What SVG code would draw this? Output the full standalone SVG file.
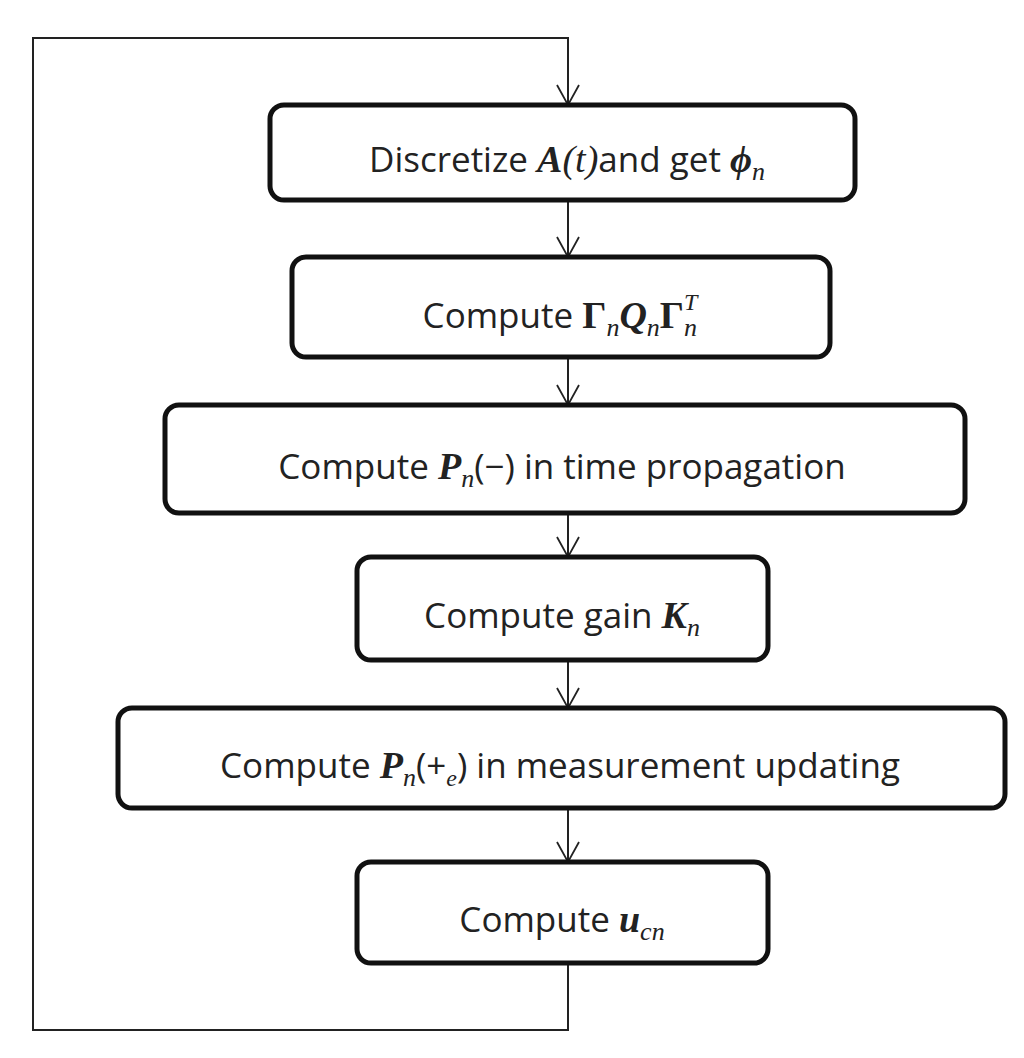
<svg xmlns="http://www.w3.org/2000/svg" width="1024" height="1058" viewBox="0 0 1024 1058">
<defs>
<marker id="v" markerWidth="24" markerHeight="24" refX="22" refY="12" orient="auto" markerUnits="userSpaceOnUse" viewBox="0 0 24 24"><path d="M2 1 L22 12 L2 23" fill="none" stroke="#222" stroke-width="1.8"/></marker>
</defs>
<style>
.b{fill:#fff;stroke:#111;stroke-width:5}
.t{font-family:"Open Sans","Liberation Sans",sans-serif;font-size:35px;fill:#222;text-anchor:middle}
.m{font-family:"Liberation Serif",serif;font-style:italic;font-weight:bold;font-size:38px}
.g{font-family:"Liberation Serif",serif;font-style:normal;font-weight:bold;font-size:38px}
.mi{font-family:"Liberation Serif",serif;font-style:italic}
.c{fill:none;stroke:#222;stroke-width:2}
</style>
<rect width="1024" height="1058" fill="#fff"/>
<g id="connectors">
<path class="c" d="M568 963 V1030 H33 V38 H568 V105" marker-end="url(#v)"/>
<path class="c" d="M568 200 V257" marker-end="url(#v)"/>
<path class="c" d="M568 357 V405" marker-end="url(#v)"/>
<path class="c" d="M568 513 V557" marker-end="url(#v)"/>
<path class="c" d="M568 660 V708" marker-end="url(#v)"/>
<path class="c" d="M568 808 V862" marker-end="url(#v)"/>
</g>
<g id="n1"><rect class="b" x="270" y="105" width="585" height="95" rx="14"/>
<text class="t" x="567" y="172">Discretize <tspan class="m">A</tspan><tspan class="mi" font-size="38">(t)</tspan>and get <tspan class="m">ϕ</tspan><tspan class="mi" font-size="26" dy="8">n</tspan></text></g>
<g id="n2"><rect class="b" x="292" y="257" width="538" height="100" rx="14"/>
<text class="t" x="560" y="328">Compute  <tspan class="g">Γ</tspan><tspan class="mi" font-size="26" dy="8">n</tspan><tspan class="m" dy="-8">Q</tspan><tspan class="mi" font-size="26" dy="8">n</tspan><tspan class="g" dy="-8">Γ</tspan><tspan class="mi" font-size="26" dy="8">n</tspan><tspan class="mi" font-size="24" dx="-13" dy="-26">T</tspan></text></g>
<g id="n3"><rect class="b" x="165" y="405" width="800" height="108" rx="14"/>
<text class="t" x="562" y="479">Compute <tspan class="m">P</tspan><tspan class="mi" font-size="26" dy="8">n</tspan><tspan dy="-8">(−) in time propagation</tspan></text></g>
<g id="n4"><rect class="b" x="357" y="557" width="411" height="103" rx="14"/>
<text class="t" x="562" y="628">Compute gain <tspan class="m">K</tspan><tspan class="mi" font-size="26" dy="8">n</tspan></text></g>
<g id="n5"><rect class="b" x="118" y="708" width="887" height="100" rx="14"/>
<text class="t" x="560" y="778">Compute <tspan class="m">P</tspan><tspan class="mi" font-size="26" dy="8">n</tspan><tspan dy="-8">(+</tspan><tspan class="mi" font-size="24" dy="8">e</tspan><tspan dy="-8">) in measurement updating</tspan></text></g>
<g id="n6"><rect class="b" x="357" y="862" width="411" height="101" rx="14"/>
<text class="t" x="562" y="932">Compute <tspan class="m">u</tspan><tspan class="mi" font-size="26" dy="8">cn</tspan></text></g>
</svg>
